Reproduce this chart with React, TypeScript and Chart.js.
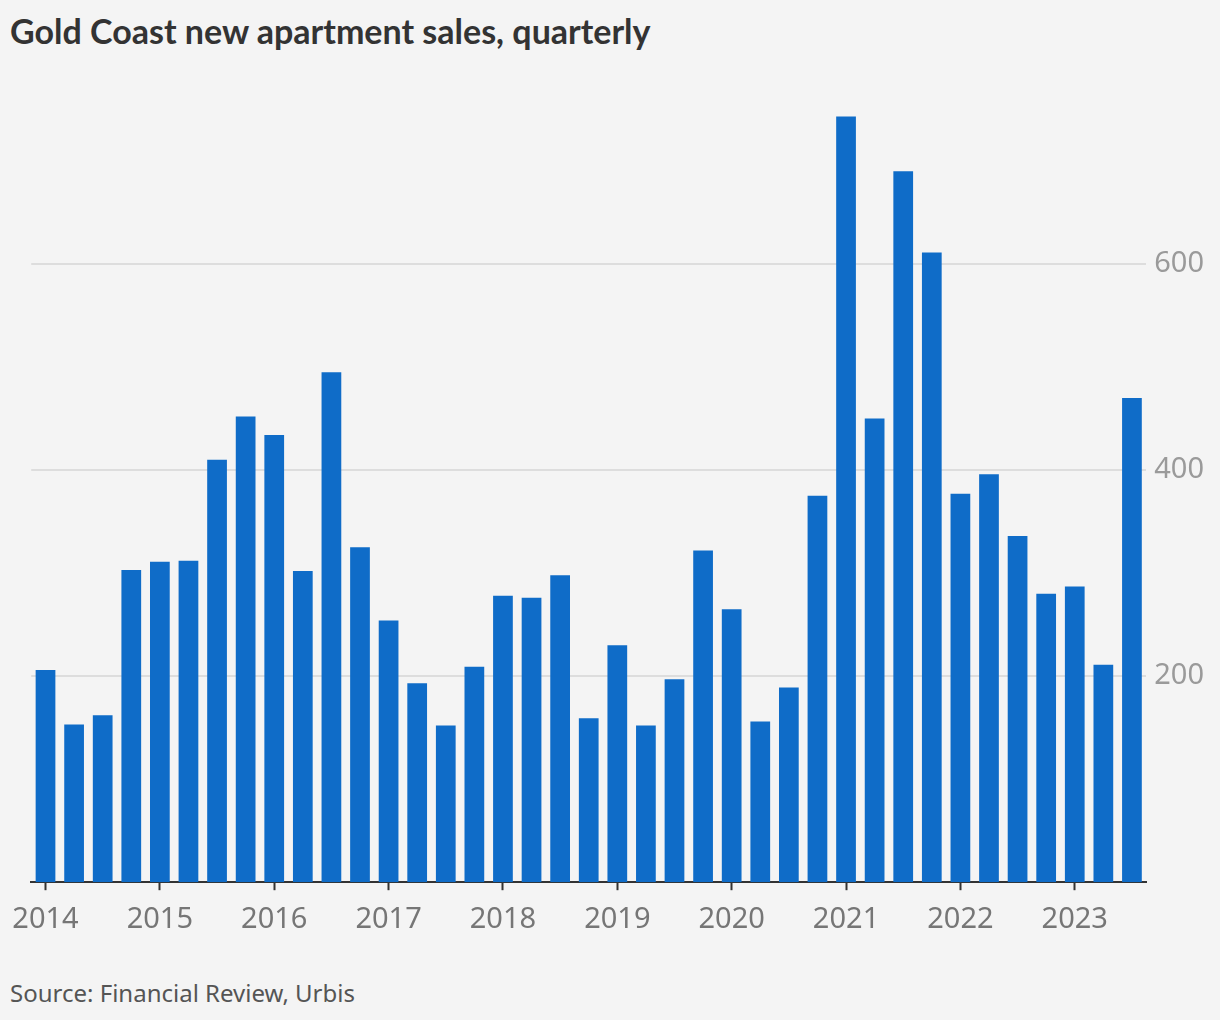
import React, { useEffect, useRef } from "react";
import { Chart, registerables } from "chart.js";

Chart.register(...registerables);

const years = ["2014", "2015", "2016", "2017", "2018", "2019", "2020", "2021", "2022", "2023"];
const quarters = ["Q1", "Q2", "Q3", "Q4"];
const categories: string[] = [];
years.forEach((y) => quarters.forEach((q) => categories.push(`${y} ${q}`)));
const labels = categories.slice(0, 39);

const sales = [
  206, 153, 162, 303, 311, 312, 410, 452,
  434, 302, 495, 325, 254, 193, 152, 209,
  278, 276, 298, 159, 230, 152, 197, 322,
  265, 156, 189, 375, 743, 450, 690, 611,
  377, 396, 336, 280, 287, 211, 470,
];

const yTicks = [200, 400, 600];

const title = "Gold Coast new apartment sales, quarterly";
const source = "Source: Financial Review, Urbis";

export default function App() {
  const ref = useRef<HTMLCanvasElement | null>(null);

  useEffect(() => {
    document.body.style.margin = "0";
    document.body.style.background = "#f4f4f4";
    const ctx = ref.current!.getContext("2d")!;
    const chart = new Chart(ctx, {
      type: "bar",
      data: {
        labels,
        datasets: [
          {
            data: sales,
            backgroundColor: "#0f6cc8",
            borderWidth: 0,
            barPercentage: 0.69,
            categoryPercentage: 1,
          },
        ],
      },
      options: {
        animation: false,
        responsive: false,
        maintainAspectRatio: false,
        layout: { padding: { left: 26, right: 8, top: 97, bottom: 0 } },
        plugins: { legend: { display: false }, tooltip: { enabled: false }, title: { display: false } },
        scales: {
          x: {
            type: "category",
            offset: true,
            grid: {
              offset: false,
              drawOnChartArea: false,
              drawTicks: true,
              tickLength: 8,
              tickWidth: 2,
              tickColor: "#333333",
            },
            border: { display: true, color: "#333333", width: 2 },
            ticks: {
              autoSkip: false,
              maxRotation: 0,
              padding: 12,
              color: "#767676",
              font: { family: "'Noto Sans', sans-serif", size: 29 },
              callback: (_v: any, i: number) => (i % 4 === 0 ? labels[i].slice(0, 4) : null),
            },
          },
          y: {
            position: "right",
            min: 0,
            max: 762,
            afterBuildTicks: (axis: any) => {
              axis.ticks = yTicks.map((v) => ({ value: v }));
            },
            grid: { color: "#dddddd", lineWidth: 2, drawTicks: false },
            border: { display: false },
            ticks: {
              padding: 8,
              color: "#9a9a9a",
              font: { family: "'Noto Sans', sans-serif", size: 29 },
            },
          },
        },
      },
    });
    return () => chart.destroy();
  }, []);

  return (
    <div style={{ position: "relative", width: 1220, height: 1020, background: "#f4f4f4", overflow: "hidden" }}>
      <div
        style={{
          position: "absolute",
          left: 10,
          top: 10,
          fontFamily: "Lato, sans-serif",
          fontWeight: 700,
          fontSize: 34,
          color: "#333333",
          whiteSpace: "nowrap",
        }}
      >
        {title}
      </div>
      <canvas ref={ref} width={1220} height={949} style={{ position: "absolute", left: 0, top: 0, width: 1220, height: 949 }} />
      <div
        style={{
          position: "absolute",
          left: 10,
          top: 976,
          fontFamily: "'Noto Sans', sans-serif",
          fontSize: 24,
          color: "#555555",
          whiteSpace: "nowrap",
        }}
      >
        {source}
      </div>
    </div>
  );
}
